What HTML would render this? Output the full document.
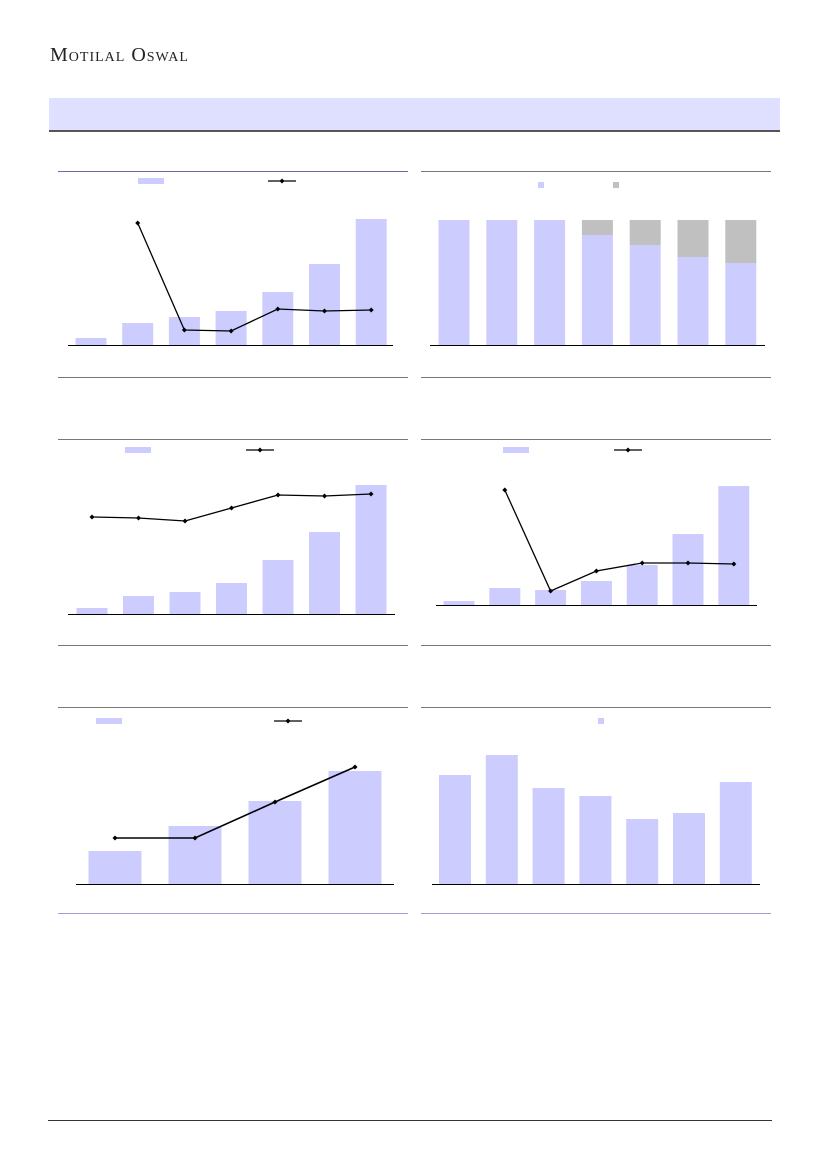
<!DOCTYPE html>
<html><head><meta charset="utf-8">
<style>
body{margin:0;background:#fff;}
#page{position:relative;width:827px;height:1169px;overflow:hidden;background:#fff;}
.brand{position:absolute;left:50px;top:44px;font-family:"Liberation Serif",serif;font-size:20px;font-variant:small-caps;letter-spacing:1px;color:#222;}
.band{position:absolute;left:49px;top:98px;width:731px;height:32px;background:#dfdfff;border-bottom:2px solid #555;}
.hl{position:absolute;height:1px;}
svg{position:absolute;left:0;top:0;}
</style></head><body>
<div id="page">
<div class="brand">Motilal Oswal</div>
<div class="band"></div>
<div class="hl" style="left:58px;top:171px;width:350px;background:#6a6aa8"></div>
<div class="hl" style="left:421px;top:171px;width:350px;background:#777"></div>
<div class="hl" style="left:58px;top:377px;width:350px;background:#777"></div>
<div class="hl" style="left:421px;top:377px;width:350px;background:#777"></div>
<div class="hl" style="left:58px;top:439px;width:350px;background:#777"></div>
<div class="hl" style="left:421px;top:439px;width:350px;background:#777"></div>
<div class="hl" style="left:58px;top:645px;width:350px;background:#777"></div>
<div class="hl" style="left:421px;top:645px;width:350px;background:#777"></div>
<div class="hl" style="left:58px;top:707px;width:350px;background:#777"></div>
<div class="hl" style="left:421px;top:707px;width:350px;background:#777"></div>
<div class="hl" style="left:58px;top:913px;width:350px;background:#a0a0d0"></div>
<div class="hl" style="left:421px;top:913px;width:350px;background:#a0a0d0"></div>
<div class="hl" style="left:48px;top:1120px;width:724px;background:#333"></div>
<svg id="charts" width="827" height="1169"></svg>
</div>
<script>
// chart data (heights in arbitrary units)
const c1Bars=[7,22,28,34,53,81,126];
const c1Line=[null,122,15,14,36,34,35];
const c2Main=[125,125,125,110,100,88,82];
const c2Other=[0,0,0,15,25,37,43];
const c3Bars=[6,18,22,31,54,82,129];
const c3Line=[97,96,93,106,119,118,120];
const c4Bars=[4,17,15,24,40,71,119];
const c4Line=[null,115,14,34,42,42,41];
const c5Bars=[33,58,83,113];
const c5Line=[46,46,82,117];
const c6Bars=[109,129,96,88,65,71,102];

const NS='http://www.w3.org/2000/svg';
const svg=document.getElementById('charts');
function mk(tag,attrs){const e=document.createElementNS(NS,tag);for(const k in attrs)e.setAttribute(k,attrs[k]);svg.appendChild(e);return e;}
function yScale(axisY){return v=>axisY-v;}
function xScale(x0,step){return i=>x0+i*step;}

function chart(cfg){
  const y=yScale(cfg.axisY), x=xScale(cfg.x0,cfg.step);
  cfg.bars.forEach((v,i)=>{
    const r=mk('rect',{x:x(i)-cfg.bw/2,y:y(v),width:cfg.bw,height:v,fill:'#ccccff'});
    
    
    if(cfg.stack){const s=cfg.stack[i];if(s>0){const g=mk('rect',{x:x(i)-cfg.bw/2,y:y(v+s),width:cfg.bw,height:s,fill:'#c0c0c0'});
      
      }}
  });
  const ax=mk('line',{x1:cfg.ax1,x2:cfg.ax2,y1:cfg.axisY+0.5,y2:cfg.axisY+0.5,stroke:'#000','stroke-width':1});
  
  
  if(cfg.line){
    const pts=[];cfg.line.forEach((v,i)=>{if(v!=null)pts.push([x(i),y(v)]);});
    const pl=mk('polyline',{points:pts.map(p=>p.join(',')).join(' '),fill:'none',stroke:'#000','stroke-width':cfg.lw||1.3});
    
    
    pts.forEach(p=>{const m=mk('path',{d:`M${p[0]-2.5},${p[1]}L${p[0]},${p[1]-2.5}L${p[0]+2.5},${p[1]}L${p[0]},${p[1]+2.5}Z`,fill:'#000'});
      
      });
  }
}
function legRect(x,y,w,h,fill){const r=mk('rect',{x:x,y:y,width:w,height:h,fill:fill});
  
  }
function legLine(x1,x2,y){const l=mk('line',{x1:x1,x2:x2,y1:y,y2:y,stroke:'#000','stroke-width':1.3});
  
  
  const cx=(x1+x2)/2;const m=mk('path',{d:`M${cx-2.5},${y}L${cx},${y-2.5}L${cx+2.5},${y}L${cx},${y+2.5}Z`,fill:'#000'});
  
  }

chart({bars:c1Bars,line:c1Line,axisY:345,x0:91,step:46.7,bw:31,ax1:68,ax2:393});
legRect(138,178,26,6,'#ccccff');legLine(268,296,181);
chart({bars:c2Main,stack:c2Other,axisY:345,x0:454,step:47.8,bw:31,ax1:430,ax2:765});
legRect(538,182,6,6,'#ccccff');legRect(613,182,6,6,'#c0c0c0');
chart({bars:c3Bars,line:c3Line,axisY:614,x0:92,step:46.5,bw:31,ax1:68,ax2:395});
legRect(125,447,26,6,'#ccccff');legLine(246,274,450);
chart({bars:c4Bars,line:c4Line,axisY:605,x0:459,step:45.8,bw:31,ax1:436,ax2:757});
legRect(503,447,26,6,'#ccccff');legLine(614,642,450);
chart({bars:c5Bars,line:c5Line,axisY:884,x0:115,step:80,bw:53,ax1:76,ax2:394,lw:1.6});
legRect(96,718,26,6,'#ccccff');legLine(274,302,721);
chart({bars:c6Bars,axisY:884,x0:455,step:46.8,bw:32,ax1:432,ax2:760});
legRect(598,718,6,6,'#ccccff');
</script>
</body></html>
